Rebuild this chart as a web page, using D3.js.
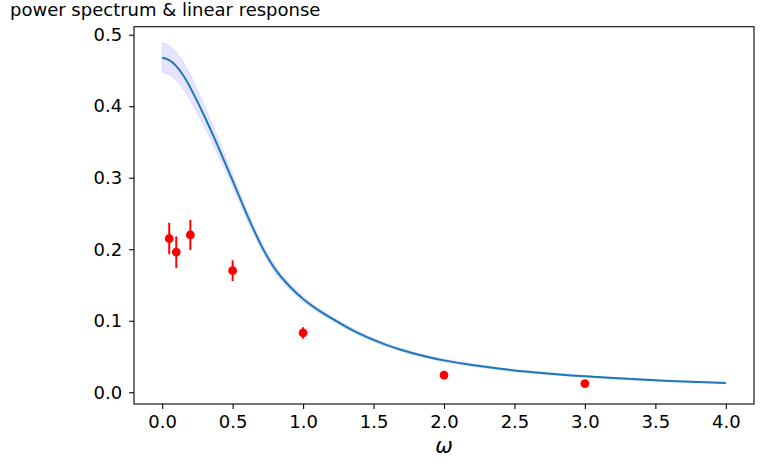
<!DOCTYPE html>
<html>
<head>
<meta charset="utf-8">
<script src="https://cdn.jsdelivr.net/npm/d3@7"></script>
<style>
  body { margin: 0; background: #fff; }
  svg { display: block; font-family: "DejaVu Sans", sans-serif; }
</style>
</head>
<body>
<div id="chart"></div>
<script>
// measured points (red, with error bars)
var omegaPts = [0.05, 0.1, 0.2, 0.5, 1.0, 2.0, 3.0];
var valuePts = [0.215, 0.196, 0.220, 0.170, 0.083, 0.024, 0.012];
var errPts = [0.022, 0.022, 0.021, 0.0145, 0.008, 0.002, 0.0015];

// linear response curve + band
var omegaLine = [0, 0.05, 0.1, 0.15, 0.2, 0.3, 0.4, 0.5, 0.6, 0.7, 0.8, 0.9, 1.0, 1.1, 1.2, 1.3, 1.4, 1.5, 1.6, 1.7, 1.8, 1.9, 2.0, 2.2, 2.4, 2.6, 2.8, 3.0, 3.3, 3.6, 4.0];
var valueLine = [0.4677, 0.4645, 0.456, 0.443, 0.426, 0.386, 0.342, 0.296, 0.249, 0.2065, 0.1725, 0.1490, 0.1305, 0.1160, 0.1036, 0.0923, 0.0820, 0.0733, 0.0656, 0.0591, 0.0535, 0.0487, 0.0446, 0.0380, 0.0328, 0.0286, 0.0252, 0.0223, 0.0188, 0.0159, 0.0129];
var lowerLine = [0.4467, 0.4440, 0.436, 0.424, 0.408, 0.371, 0.330, 0.287, 0.242, 0.2005, 0.1675, 0.1445, 0.1265, 0.1125, 0.1006, 0.0893, 0.0792, 0.0707, 0.0632, 0.0569, 0.0514, 0.0467, 0.0426, 0.0362, 0.0312, 0.0271, 0.0237, 0.0209, 0.0175, 0.0147, 0.0119];
var upperLine = [0.4887, 0.4850, 0.476, 0.462, 0.444, 0.401, 0.354, 0.305, 0.256, 0.2125, 0.1775, 0.1535, 0.1345, 0.1195, 0.1066, 0.0953, 0.0848, 0.0759, 0.0680, 0.0613, 0.0556, 0.0507, 0.0466, 0.0398, 0.0344, 0.0301, 0.0267, 0.0237, 0.0201, 0.0171, 0.0139];

var xTicks = [0, 0.5, 1.0, 1.5, 2.0, 2.5, 3.0, 3.5, 4.0];
var yTicks = [0, 0.1, 0.2, 0.3, 0.4, 0.5];

var svgWidth = 764;
var svgHeight = 467;
var margin = { top: 26.7, right: 10, bottom: 63, left: 134 };
var chartWidth = svgWidth - margin.left - margin.right;
var chartHeight = svgHeight - margin.top - margin.bottom;

var svg = d3.select("#chart")
    .append("svg")
    .attr("width", svgWidth)
    .attr("height", svgHeight);

svg.append("text")
    .attr("x", 10)
    .attr("y", 16)
    .style("font-size", "18px")
    .attr("fill", "#000")
    .text("power spectrum & linear response");

var chartGroup = svg.append("g")
    .attr("transform", `translate(${margin.left}, ${margin.top})`);

var xScale = d3.scaleLinear()
    .domain([-0.2, 4.2])
    .range([0, chartWidth]);

var yScale = d3.scaleLinear()
    .domain([-0.0164, 0.5112])
    .range([chartHeight, 0]);

var lineData = omegaLine.map((w, i) => ({ w: w, v: valueLine[i], lo: lowerLine[i], hi: upperLine[i] }));

// uncertainty band
var band = d3.area()
    .x(d => xScale(d.w))
    .y0(d => yScale(d.lo))
    .y1(d => yScale(d.hi))
    .curve(d3.curveNatural);

chartGroup.append("path")
    .datum(lineData)
    .attr("d", band)
    .attr("fill", "blue")
    .attr("fill-opacity", 0.1)
    .attr("stroke", "blue")
    .attr("stroke-opacity", 0.08)
    .attr("stroke-width", 1);

var line = d3.line()
    .x(d => xScale(d.w))
    .y(d => yScale(d.v))
    .curve(d3.curveNatural);

chartGroup.append("path")
    .datum(lineData)
    .attr("d", line)
    .attr("fill", "none")
    .attr("stroke", "#1f77b4")
    .attr("stroke-width", 2);

var pts = omegaPts.map((w, i) => ({ w: w, v: valuePts[i], e: errPts[i] }));

chartGroup.selectAll(".err")
    .data(pts)
    .enter()
    .append("line")
    .attr("class", "err")
    .attr("x1", d => xScale(d.w))
    .attr("x2", d => xScale(d.w))
    .attr("y1", d => yScale(d.v - d.e))
    .attr("y2", d => yScale(d.v + d.e))
    .attr("stroke", "red")
    .attr("stroke-width", 2);

chartGroup.selectAll(".pt")
    .data(pts)
    .enter()
    .append("circle")
    .attr("class", "pt")
    .attr("cx", d => xScale(d.w))
    .attr("cy", d => yScale(d.v))
    .attr("r", 4.4)
    .attr("fill", "red");

// axes
var bottomAxis = d3.axisBottom(xScale)
    .tickValues(xTicks)
    .tickFormat(d3.format(".1f"))
    .tickSize(4.9)
    .tickPadding(6);

var leftAxis = d3.axisLeft(yScale)
    .tickValues(yTicks)
    .tickFormat(d3.format(".1f"))
    .tickSize(4.9)
    .tickPadding(7);

var gx = chartGroup.append("g")
    .attr("transform", `translate(0, ${chartHeight})`)
    .call(bottomAxis);

var gy = chartGroup.append("g")
    .call(leftAxis);

[gx, gy].forEach(g => {
    g.select(".domain").remove();
    g.selectAll("line").attr("stroke", "#000").attr("stroke-width", 1.1);
    g.selectAll("text")
        .attr("fill", "#000")
        .style("font-size", "18px")
        .style("font-family", "DejaVu Sans, sans-serif");
});

// frame
chartGroup.append("rect")
    .attr("x", 0)
    .attr("y", 0)
    .attr("width", chartWidth)
    .attr("height", chartHeight)
    .attr("fill", "none")
    .attr("stroke", "#000")
    .attr("stroke-width", 1.1);

chartGroup.append("text")
    .attr("x", chartWidth / 2)
    .attr("y", chartHeight + 49)
    .attr("text-anchor", "middle")
    .style("font-size", "21px")
    .style("font-style", "italic")
    .attr("fill", "#000")
    .text("ω");
</script>
</body>
</html>
